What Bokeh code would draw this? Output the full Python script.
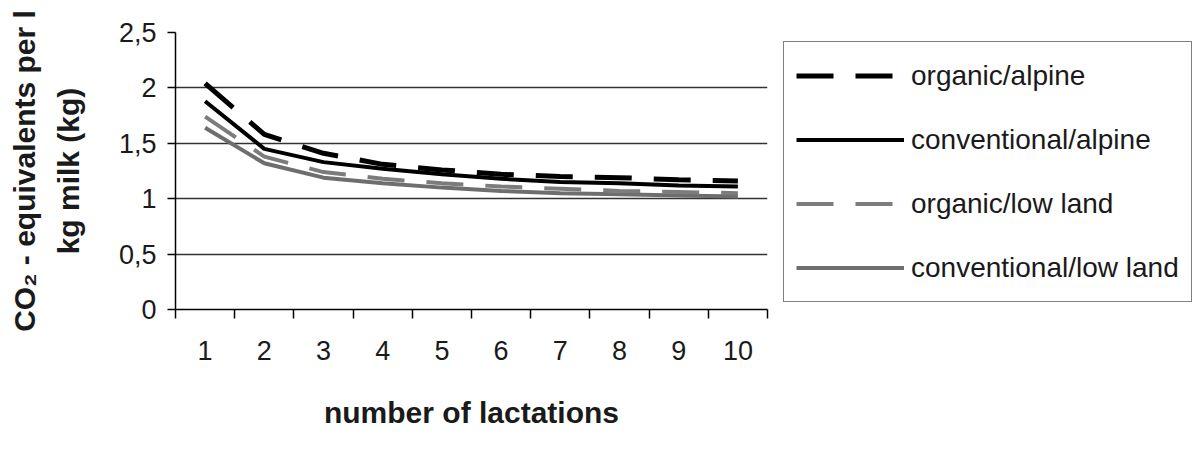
from bokeh.plotting import figure
from bokeh.models import (LinearAxis, FixedTicker, Legend, LegendItem, Range1d,
                          CustomJSTickFormatter)
from bokeh.embed import file_html
from bokeh.resources import INLINE

# ---- data ----
lactations = [1, 2, 3, 4, 5, 6, 7, 8, 9, 10]
organic_alpine = [2.04, 1.58, 1.41, 1.31, 1.26, 1.22, 1.20, 1.19, 1.17, 1.16]
conventional_alpine = [1.88, 1.45, 1.33, 1.27, 1.22, 1.18, 1.15, 1.14, 1.12, 1.11]
organic_lowland = [1.74, 1.38, 1.24, 1.18, 1.14, 1.11, 1.09, 1.07, 1.06, 1.05]
conventional_lowland = [1.64, 1.32, 1.19, 1.14, 1.10, 1.07, 1.05, 1.04, 1.03, 1.02]
y_ticks = [0, 0.5, 1, 1.5, 2, 2.5]
grid_levels = [0.5, 1, 1.5, 2]
x_title = "number of lactations"
y_title_outer = "CO\u2082 - equivalents per l"
y_title_inner = "kg milk (kg)"

FONT = "Liberation Sans"
TEXT = "#1a1a1a"

p = figure(frame_width=592, frame_height=277, output_backend="svg", toolbar_location=None,
           x_range=Range1d(0.5, 10.5), y_range=Range1d(0, 2.5),
           min_border_left=175, min_border_right=0,
           min_border_top=32, min_border_bottom=138)
p.outline_line_color = None
p.background_fill_color = "white"
p.border_fill_color = "white"

# x axis: labels at category centres, tick marks between categories
xa = p.xaxis[0]
xa.ticker = FixedTicker(ticks=lactations, minor_ticks=[i + 0.5 for i in range(0, 11)])
xa.major_tick_out = 0
xa.major_tick_in = 0
xa.minor_tick_out = 9
xa.minor_tick_in = 0
xa.minor_tick_line_color = "black"
xa.minor_tick_line_width = 1.5
xa.axis_line_color = "black"
xa.axis_line_width = 1.5
xa.major_label_text_font = FONT
xa.major_label_text_font_size = "27px"
xa.major_label_text_color = TEXT
xa.major_label_standoff = 22
xa.axis_label = x_title
xa.axis_label_text_font = FONT
xa.axis_label_text_font_style = "bold"
xa.axis_label_text_font_size = "30px"
xa.axis_label_text_color = TEXT
xa.axis_label_standoff = 33

# y axis
ya = p.yaxis[0]
ya.ticker = FixedTicker(ticks=y_ticks)
ya.formatter = CustomJSTickFormatter(code="return tick.toString().replace('.', ',')")
ya.major_tick_out = 8
ya.major_tick_in = 0
ya.major_tick_line_color = "black"
ya.major_tick_line_width = 1.5
ya.minor_tick_line_color = None
ya.axis_line_color = "black"
ya.axis_line_width = 1.5
ya.major_label_text_font = FONT
ya.major_label_text_font_size = "27px"
ya.major_label_text_color = TEXT
ya.major_label_standoff = 11
ya.axis_label = y_title_inner
ya.axis_label_text_font = FONT
ya.axis_label_text_font_style = "bold"
ya.axis_label_text_font_size = "30px"
ya.axis_label_text_color = TEXT
ya.axis_label_standoff = 31

outer = LinearAxis(ticker=FixedTicker(ticks=[]), axis_label=y_title_outer,
                   axis_line_color=None, major_tick_line_color=None,
                   minor_tick_line_color=None, major_label_text_font_size="0px",
                   axis_label_text_font=FONT, axis_label_text_font_style="bold",
                   axis_label_text_font_size="30px", axis_label_text_color=TEXT,
                   axis_label_standoff=8)
p.add_layout(outer, "left")

# grid
p.xgrid.visible = False
p.ygrid.ticker = FixedTicker(ticks=grid_levels)
p.ygrid.grid_line_color = "#333333"
p.ygrid.grid_line_width = 1.5

# series
r_cl = p.line(lactations, conventional_lowland, line_color="#6e6e6e", line_width=4)
r_ol = p.line(lactations, organic_lowland, line_color="#7c7c7c", line_width=4,
              line_dash="37 22")
r_ca = p.line(lactations, conventional_alpine, line_color="black", line_width=4)
r_oa = p.line(lactations, organic_alpine, line_color="black", line_width=5,
              line_dash="37 22")

legend = Legend(items=[
    LegendItem(label="organic/alpine", renderers=[r_oa]),
    LegendItem(label="conventional/alpine", renderers=[r_ca]),
    LegendItem(label="organic/low land", renderers=[r_ol]),
    LegendItem(label="conventional/low land", renderers=[r_cl]),
], location=(16, 7))
legend.border_line_color = "black"
legend.border_line_width = 1.5
legend.background_fill_color = "white"
legend.background_fill_alpha = 1
legend.padding = 12
legend.margin = 0
legend.glyph_width = 108
legend.glyph_height = 43
legend.label_height = 43
legend.spacing = 21
legend.label_standoff = 7
legend.label_text_font = FONT
legend.label_text_font_size = "28px"
legend.label_text_color = TEXT
p.add_layout(legend, "right")

open("out.html", "w").write(file_html(p, INLINE))
